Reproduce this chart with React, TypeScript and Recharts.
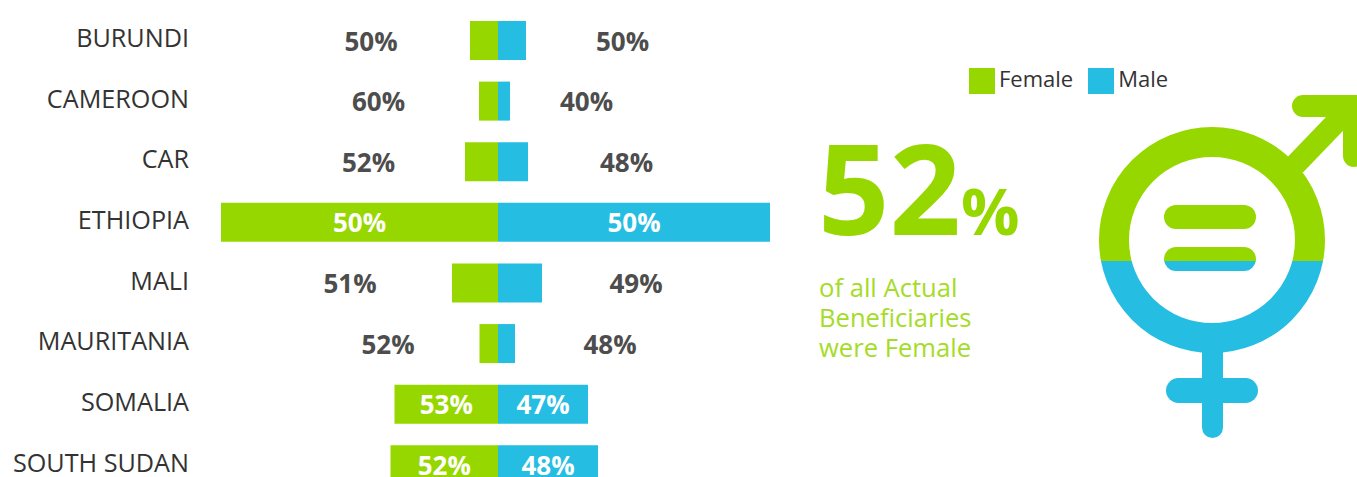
import React from 'react';
import { BarChart, Bar, XAxis, YAxis, Legend, LabelList } from 'recharts';

const GREEN = '#97d700';
const BLUE = '#26bde2';

const countries = ['BURUNDI', 'CAMEROON', 'CAR', 'ETHIOPIA', 'MALI', 'MAURITANIA', 'SOMALIA', 'SOUTH SUDAN'];
// bar lengths, the source has no axis
const femaleValues = [28, 19, 33, 277, 46, 18.5, 103.5, 107.5];
const maleValues = [28, 12, 30, 272, 44, 17, 90, 100];
const femaleShares = [50, 60, 52, 50, 51, 52, 53, 52];
const maleShares = [50, 40, 48, 50, 49, 48, 47, 48];

// distance from the bar end to the label centre, null means centred in white
const femaleLabelGaps = [99, 100.5, 96.5, null, 102, 91.5, null, null];
const maleLabelGaps = [96.5, 76.5, 98.5, null, 94, 95, null, null];

const rows = countries.map((country, i) => ({
  country,
  Female: -femaleValues[i],
  Male: maleValues[i],
  femaleShare: femaleShares[i],
  maleShare: maleShares[i],
}));

const shareLabel = (gaps: (number | null)[], side: number) => (props: any) => {
  const { x, y, width, height, value, index } = props;
  const left = Math.min(x, x + width);
  const w = Math.abs(width);
  const gap = gaps[index];
  const outerEdge = side < 0 ? left : left + w;
  const cx = gap === null ? left + w / 2 : outerEdge + side * gap;
  return (
    <text
      x={cx}
      y={y + height / 2}
      textAnchor="middle"
      dominantBaseline="central"
      fontFamily="'Open Sans'"
      fontWeight={700}
      fontSize={26}
      fill={gap === null ? '#ffffff' : '#4d4d4d'}
    >
      {value}%
    </text>
  );
};

const GenderSymbol = () => (
  <svg width={1357} height={477} style={{ position: 'absolute', left: 0, top: 0 }}>
    <defs>
      <clipPath id="topHalf">
        <rect x={1050} y={80} width={307} height={181} />
      </clipPath>
      <clipPath id="bottomHalf">
        <rect x={1050} y={261} width={307} height={216} />
      </clipPath>
    </defs>
    <g fill="none" stroke={GREEN} strokeWidth={22} strokeLinecap="round">
      <path d="M1303 106 H1354 V156" strokeLinejoin="miter" />
      <path d="M1295 165 L1345 113" strokeLinecap="butt" strokeWidth={22} />
    </g>
    <g clipPath="url(#topHalf)">
      <circle cx={1212} cy={240} r={98} fill="none" stroke={GREEN} strokeWidth={30} />
      <rect x={1164} y={205} width={92} height={24} rx={12} fill={GREEN} />
      <rect x={1164} y={247} width={92} height={24} rx={12} fill={GREEN} />
    </g>
    <g clipPath="url(#bottomHalf)">
      <circle cx={1212} cy={240} r={98} fill="none" stroke={BLUE} strokeWidth={30} />
      <rect x={1164} y={247} width={92} height={24} rx={12} fill={BLUE} />
      <rect x={1202} y={335} width={21} height={103} rx={10.5} fill={BLUE} />
      <rect x={1166} y={378} width={92} height={25} rx={12.5} fill={BLUE} />
    </g>
  </svg>
);

const Callout = () => (
  <div style={{ position: 'absolute', left: 820, top: 0, fontFamily: "'Open Sans'", color: GREEN }}>
    <div style={{ position: 'absolute', left: -2, top: 102, whiteSpace: 'nowrap', lineHeight: '170px', fontWeight: 700, fontSize: 125 }}>
      52<span style={{ fontSize: 65 }}>%</span>
    </div>
    <div style={{ position: 'absolute', left: -1, top: 273, whiteSpace: 'nowrap', fontSize: 25.6, lineHeight: '30px', color: '#a4dc27' }}>
      of all Actual
      <br />
      Beneficiaries
      <br />
      were Female
    </div>
  </div>
);

export default function App() {
  return (
    <div style={{ position: 'absolute', left: 0, top: 0, width: 1357, height: 477, overflow: 'hidden', background: '#fff' }}>
      <BarChart
        width={1357}
        height={526}
        data={rows}
        layout="vertical"
        stackOffset="sign"
        barSize={39}
        margin={{ top: 10, right: 587, bottom: 0, left: 0 }}
      >
        <XAxis type="number" domain={[-277, 272]} hide />
        <YAxis
          type="category"
          dataKey="country"
          width={221}
          axisLine={false}
          tickLine={false}
          tickSize={0}
          tickMargin={32}
          interval={0}
          tick={{ fontFamily: "'Open Sans'", fontSize: 25.2, fill: '#333333', dy: -2 }}
        />
        <Legend
          layout="horizontal"
          iconType="square"
          iconSize={26}
          wrapperStyle={{ position: 'absolute', left: 969, top: 63, width: 'auto', bottom: 'auto', fontFamily: "'Open Sans'", fontSize: 22 }}
          formatter={(value: string) => <span style={{ color: '#333333', paddingRight: 5 }}>{value}</span>}
        />
        <Bar dataKey="Female" stackId="share" fill={GREEN} isAnimationActive={false}>
          <LabelList dataKey="femaleShare" content={shareLabel(femaleLabelGaps, -1)} />
        </Bar>
        <Bar dataKey="Male" stackId="share" fill={BLUE} isAnimationActive={false}>
          <LabelList dataKey="maleShare" content={shareLabel(maleLabelGaps, 1)} />
        </Bar>
      </BarChart>
      <Callout />
      <GenderSymbol />
    </div>
  );
}
